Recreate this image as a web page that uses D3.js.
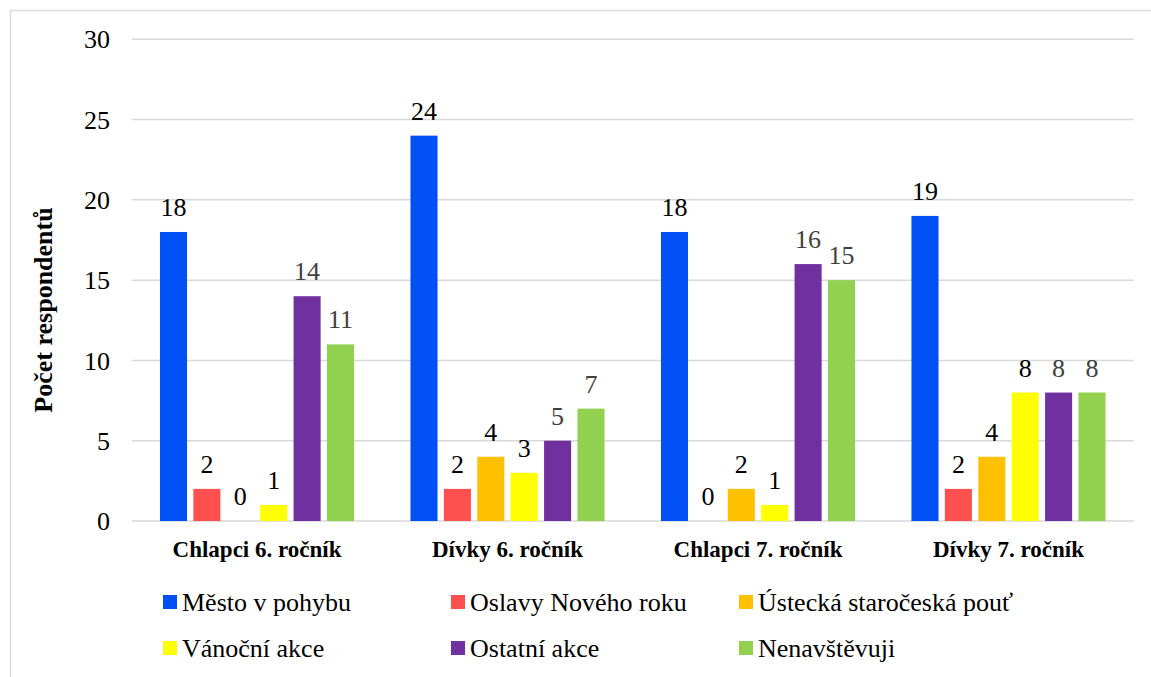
<!DOCTYPE html>
<html><head><meta charset="utf-8">
<script src="https://cdn.jsdelivr.net/npm/d3@7"></script>
<style>body{margin:0;background:#fff}svg{display:block}svg text{font-family:"Liberation Serif","Times New Roman",Tinos,serif !important}</style>
</head><body>
<svg id="c" width="1151" height="677"></svg>
<script>
const categories = ["Chlapci 6. ročník", "Dívky 6. ročník", "Chlapci 7. ročník", "Dívky 7. ročník"];
const seriesNames = ["Město v pohybu", "Oslavy Nového roku", "Ústecká staročeská pouť", "Vánoční akce", "Ostatní akce", "Nenavštěvuji"];
const mestoVPohybu = [18, 24, 18, 19];
const oslavyNovehoRoku = [2, 2, 0, 2];
const usteckaPout = [0, 4, 2, 4];
const vanocniAkce = [1, 3, 1, 8];
const ostatniAkce = [14, 5, 16, 8];
const nenavstevuji = [11, 7, 15, 8];
const yTicks = [0, 5, 10, 15, 20, 25, 30];
const yTitle = "Počet respondentů";

const seriesValues = [mestoVPohybu, oslavyNovehoRoku, usteckaPout, vanocniAkce, ostatniAkce, nenavstevuji];
const colors = ["#0050F5", "#FF5050", "#FFC000", "#FFFF00", "#7030A0", "#92D050"];
const labelColors = ["#000", "#000", "#000", "#000", "#404040", "#404040"];

const svg = d3.select("#c");

svg.append("rect").attr("x", 10.5).attr("y", 10.5).attr("width", 1160).attr("height", 700)
  .attr("fill", "none").attr("stroke", "#d9d9d9").attr("stroke-width", 1.5);

const x0 = 131.75, x1 = 1133.75;
const y = d3.scaleLinear().domain([0, 30]).range([521, 39.3]);
const xg = d3.scaleBand().domain(categories).range([x0, x1]).paddingInner(0.2).paddingOuter(0.1);
const xs = d3.scaleBand().domain(seriesNames).range([0, xg.bandwidth()]).paddingInner(0.19).paddingOuter(0.095);

// grid
svg.append("g").selectAll("line").data(yTicks).join("line")
  .attr("x1", x0).attr("x2", x1).attr("y1", d => y(d)).attr("y2", d => y(d))
  .attr("stroke", "#d9d9d9").attr("stroke-width", 1.5);

// y axis labels
const yAxis = d3.axisLeft(y).tickValues(yTicks).tickSize(0).tickPadding(0);
const ya = svg.append("g").attr("transform", "translate(110,0)").call(yAxis);
ya.attr("font-family", null);
ya.select(".domain").remove();
ya.selectAll("text").attr("font-size", 26).attr("fill", "#000").attr("dy", "0.33em");

// bars
const groups = svg.append("g").selectAll("g").data(categories).join("g")
  .attr("transform", d => `translate(${xg(d)},0)`);
groups.each(function(cat, ci) {
  const g = d3.select(this);
  const data = seriesNames.map((s, si) => ({s, si, v: seriesValues[si][ci]}));
  g.selectAll("rect").data(data).join("rect")
    .attr("x", d => xs(d.s)).attr("width", xs.bandwidth())
    .attr("y", d => y(d.v)).attr("height", d => y(0) - y(d.v))
    .attr("fill", d => colors[d.si]);
  g.selectAll("text").data(data).join("text")
    .attr("x", d => xs(d.s) + xs.bandwidth() / 2).attr("y", d => y(d.v) - 16)
    .attr("text-anchor", "middle").attr("font-size", 26)
    .attr("fill", d => labelColors[d.si]).text(d => d.v);
});

// category axis
const xa = svg.append("g").attr("transform", "translate(0,521)")
  .call(d3.axisBottom(xg).tickSize(0).tickPadding(0));
xa.attr("font-family", null);
xa.select(".domain").remove();
xa.selectAll("text").attr("font-size", 23).attr("font-weight", "bold")
  .attr("fill", "#000").attr("dy", 0).attr("y", 36);

// y title
svg.append("text").attr("transform", "translate(52,310) rotate(-90)")
  .attr("text-anchor", "middle").attr("font-size", 26)
  .attr("font-weight", "bold").attr("fill", "#000").text(yTitle);

// legend
const leg = svg.append("g").selectAll("g").data(seriesNames).join("g")
  .attr("transform", (d, i) => `translate(${163 + (i % 3) * 288},${595 + Math.floor(i / 3) * 46})`);
leg.append("rect").attr("width", 14).attr("height", 14).attr("fill", (d, i) => colors[i]);
leg.append("text").attr("x", 19).attr("y", 16).attr("font-size", 26)
  .attr("fill", "#000").text(d => d);
</script>
</body></html>
